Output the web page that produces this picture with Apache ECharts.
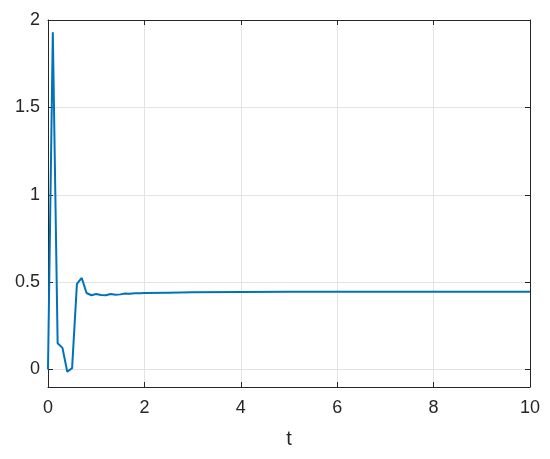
<!DOCTYPE html>
<html><head><meta charset="utf-8">
<script src="https://cdn.jsdelivr.net/npm/echarts@6/dist/echarts.min.js"></script>
<style>html,body{margin:0;padding:0;background:#fff}#c{width:550px;height:459px}</style>
</head><body><div id="c"></div>
<script>
const tValues = [0,0.1,0.2,0.3,0.4,0.5,0.6,0.7,0.8,0.9,1.0,1.1,1.2,1.3,1.4,1.5,1.6,1.7,1.8,1.9,2.0,2.5,3,4,5,6,7,8,9,10];
const yValues = [0,1.93,0.15,0.124,-0.013,0.008,0.49,0.524,0.438,0.425,0.432,0.426,0.425,0.432,0.428,0.43,0.435,0.434,0.436,0.437,0.438,0.44,0.442,0.444,0.445,0.445,0.445,0.445,0.445,0.445];
const xTicks = [0,2,4,6,8,10];
const yTicks = [0,0.5,1,1.5,2];
const xName = 't';

const font = 'Liberation Sans, Helvetica, Arial, sans-serif';
const axisCol = '#262626';
const chart = echarts.init(document.getElementById('c'));
const data = tValues.map((t,i)=>[t,yValues[i]]);
const yCommon = {type:'value', min:-0.1, max:2, scale:true};
chart.setOption({
  animation:false,
  grid:{left:48, right:20, top:20, bottom:72},
  xAxis:[{
    type:'value', min:0, max:10, interval:2,
    name:xName, nameLocation:'middle', nameGap:42,
    nameTextStyle:{fontFamily:font, fontSize:20, color:axisCol},
    axisLine:{onZero:false, lineStyle:{color:axisCol, width:1}},
    axisTick:{inside:true, length:5, lineStyle:{color:axisCol}},
    axisLabel:{fontFamily:font, fontSize:18, color:axisCol, margin:12,
      formatter:v=>xTicks.includes(v)?String(v):''},
    splitLine:{show:true, lineStyle:{color:'#e3e3e3', width:1}}
  },{
    type:'value', min:0, max:10, interval:2, position:'top',
    axisLine:{onZero:false, lineStyle:{color:axisCol, width:1}},
    axisTick:{inside:true, length:5, lineStyle:{color:axisCol}},
    axisLabel:{show:false}, splitLine:{show:false}
  }],
  yAxis:[Object.assign({}, yCommon, {
    axisLine:{show:true, onZero:false, lineStyle:{color:axisCol, width:1}},
    axisTick:{show:true, inside:true, length:5, lineStyle:{color:axisCol}, customValues:yTicks},
    axisLabel:{fontFamily:font, fontSize:18, color:axisCol, margin:8, customValues:yTicks,
      formatter:v=>String(v)},
    splitLine:{show:true, lineStyle:{color:'#e3e3e3', width:1}}
  }), Object.assign({}, yCommon, {
    position:'right',
    axisLine:{show:true, onZero:false, lineStyle:{color:axisCol, width:1}},
    axisTick:{show:true, inside:true, length:5, lineStyle:{color:axisCol}, customValues:yTicks},
    axisLabel:{show:false}, splitLine:{show:false}
  })],
  series:[{
    type:'line', data:data, showSymbol:false, symbol:'none',
    lineStyle:{color:'#0072BD', width:2}, xAxisIndex:0, yAxisIndex:0
  }]
});
</script></body></html>
